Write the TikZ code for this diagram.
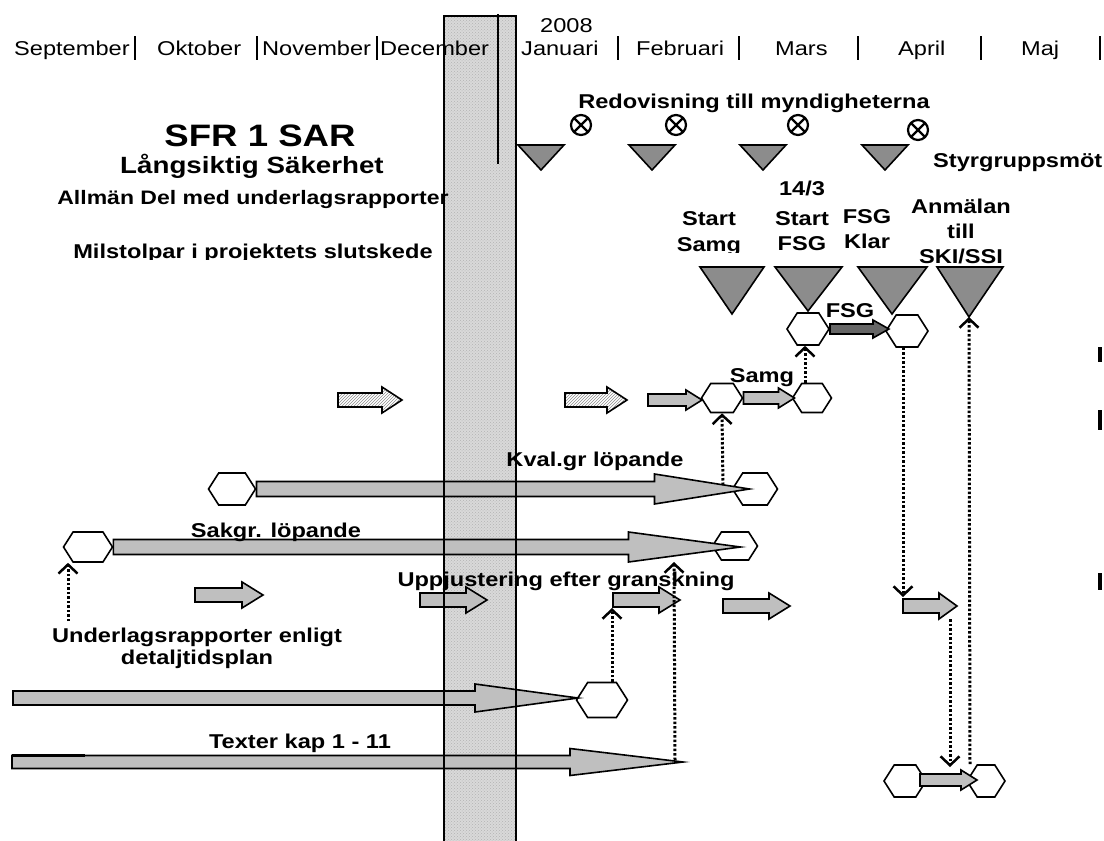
\documentclass[tikz,border=0pt]{standalone}
\usepackage{fontspec}
\setmainfont{Liberation Sans}[FakeStretch=1.18]
\usetikzlibrary{shapes.symbols,arrows.meta,patterns}

% block arrow: style, tail, length, head length, half shaft, half head
\newcommand{\barr}[6]{\draw[#1] #2 ++(0,-#5) -- ++(#3-#4,0) -- ++(0,#5-#6)
  -- ++(#4,#6) -- ++(-#4,#6) -- ++(0,#5-#6) -- ++(-#3+#4,0) -- cycle;}

\begin{document}
\begin{tikzpicture}[x=1pt,y=-1pt,
    hexa/.style={signal, signal to=east and west, signal pointer angle=115, draw, line width=1.6pt, fill=white, inner sep=0pt, minimum width=42pt, minimum height=32pt},
    blk/.style={draw, line width=1.6pt, fill=black!25},
    hatched/.style={draw, line width=1.6pt, pattern=north east lines, pattern color=black!45},
    tri/.style={draw, line width=1.6pt, fill=black!45},
    dotarr/.style={line width=3pt, dash pattern=on 2.5pt off 2pt, -{Straight Barb[length=9pt,width=19pt,line width=2.5pt]}},
    lbl/.style={font=\bfseries\fontsize{20}{25}\selectfont, inner sep=0pt, anchor=base},
    month/.style={font=\fontsize{20}{24}\selectfont, inner sep=0pt, anchor=base west},
    bar/.style={line width=2.5pt},
    xcirc/.style={circle, draw, line width=2.2pt, minimum size=20pt, inner sep=0pt, path picture={\draw[line width=2.2pt] (path picture bounding box.north west) -- (path picture bounding box.south east) (path picture bounding box.south west) -- (path picture bounding box.north east);}}
  ]
\useasboundingbox (0,0) rectangle (1104,841);

% the shaded band
\fill[black!15] (444,16) rectangle (516,841);
\fill[pattern=crosshatch dots, pattern color=black!30] (444,16) rectangle (516,841);

% months
\node[month] (sep) at (14,55) {September};
\node[month] (okt) at (157,55) {Oktober};
\node[month] (nov) at (262,55) {November};
\node[month] (dec) at (380,55) {December};
\node[month] (jan) at (521,55) {Januari};
\node[month] (feb) at (636,55) {Februari};
\node[month] (mar) at (775,55) {Mars};
\node[month] (apr) at (898,55) {April};
\node[month] (maj) at (1021,55) {Maj};
\node[month] (yr) at (540,32) {2008};
\foreach \bx in {135,257,377,618,739,858,981,1100}
  \draw[bar] (\bx,36) -- (\bx,60);

% title block
\node[lbl, font=\bfseries\fontsize{31}{36}\selectfont] (sfr) at (260,146) {SFR 1 SAR};
\node[lbl, font=\bfseries\fontsize{23.5}{28}\selectfont] (lang) at (252,173) {Långsiktig Säkerhet};
\node[lbl, font=\bfseries\fontsize{19.5}{24}\selectfont] (allm) at (253,204) {Allmän Del med underlagsrapporter};
\begin{scope}
  \clip (0,0) rectangle (1104,259);
  \node[lbl] (milst) at (253,258) {Milstolpar i projektets slutskede};
\end{scope}

% steering group meetings
\node[lbl] (redov) at (754,108) {Redovisning till myndigheterna};
\node[xcirc] (r1) at (581,125) {};
\node[xcirc] (r2) at (676,125) {};
\node[xcirc] (r3) at (798,125) {};
\node[xcirc] (r4) at (918,130) {};
\foreach \tx in {541,652,763,885}
  \draw[tri] (\tx-23,145) -- (\tx+23,145) -- (\tx,170) -- cycle;
\node[lbl, anchor=base west] (styr) at (933,167) {Styrgruppsmöt};

% milestones
\coordinate (mSamg) at (732,314);
\coordinate (mFsg) at (808,311);
\coordinate (mKlar) at (892,314);
\coordinate (mAnm) at (969,317);
\draw[tri] (mSamg) -- ++(-32,-47) -- ++(64,0) -- cycle;
\draw[tri] (mFsg) -- ++(-33,-44) -- ++(67,0) -- cycle;
\draw[tri] (mKlar) -- ++(-34,-47) -- ++(69,0) -- cycle;
\draw[tri] (mAnm) -- ++(-32,-50) -- ++(66,0) -- cycle;
\node[lbl] (st1) at (709,225) {Start};
\begin{scope}
  \clip (600,0) rectangle (760,252);
  \node[lbl] (st1b) at (709,251) {Samg};
\end{scope}
\node[lbl] (st2a) at (802,195) {14/3};
\node[lbl] (st2) at (802,225) {Start};
\node[lbl] (st2b) at (802,250) {FSG};
\node[lbl] (kl) at (867,223) {FSG};
\node[lbl] (klb) at (867,248) {Klar};
\node[lbl] (anm) at (961,213) {Anmälan};
\node[lbl] (anmb) at (961,238) {till};
\node[lbl] (anmc) at (961,263) {SKI/SSI};

% hexagons
\node[hexa] (f1) at (808,329) {};
\node[hexa] (f2) at (907,331) {};
\node[hexa, minimum width=41pt, minimum height=29pt] (s1) at (722,398) {};
\node[hexa, minimum width=39pt, minimum height=29pt] (s2) at (812,398) {};
\node[hexa, minimum width=47pt] (k1) at (232,489) {};
\node[hexa, minimum width=45pt] (k2) at (755,489) {};
\node[hexa, minimum width=49pt, minimum height=30pt] (a1) at (88,547) {};
\node[hexa, minimum width=45pt, minimum height=28pt] (a2) at (735,546) {};
\node[hexa, minimum width=51pt, minimum height=35pt] (u) at (602,700) {};
\node[hexa] (b1) at (905,781) {};
\node[hexa, minimum width=38pt] (b2) at (986,781) {};

% block arrows
\barr{blk, fill=black!60}{(f1.east)}{59}{16}{5}{9}
\barr{hatched}{(338,400)}{64}{20}{7}{13}
\barr{hatched}{(565,400)}{62}{20}{7}{13}
\barr{blk}{(648,400)}{54}{16}{6}{10}
\barr{blk}{(s1.east)}{51}{16}{6}{10}
\barr{blk}{(195,595)}{68}{21}{7}{13}
\barr{blk}{(420,600)}{67}{21}{7}{13}
\barr{blk}{(613,600)}{67}{21}{7}{13}
\barr{blk}{(723,606)}{67}{21}{7}{13}
\barr{blk}{(903,606)}{54}{18}{7}{13}
\barr{blk}{(920,780)}{57}{16}{6}{10}
\barr{blk}{(k1.east)}{493}{95}{7.5}{15}
\barr{blk}{(a1.east)}{627}{112}{7.5}{15}
\barr{blk}{(13,698)}{565}{103}{7}{14}
\barr{blk}{(12,762)}{671}{113}{6.5}{13.5}
\draw[line width=3pt] (12,755) -- (85,755);

% band edges over the arrows
\draw[line width=1.6pt] (444,841) -- (444,16) -- (516,16) -- (516,841);
\draw[line width=1.6pt] (498,14) -- (498,164);

% labels on the rows
\node[lbl] (samg) at (762,382) {Samg};
\node[lbl] (fsgl) at (850,317) {FSG};
\node[lbl] (kvl) at (595,466) {Kval.gr löpande};
\node[lbl] (sakl) at (276,537) {Sakgr. löpande};
\node[lbl] (uppj) at (566,586) {Uppjustering efter granskning};
\node[lbl] (texl) at (300,748) {Texter kap 1 - 11};
\node[lbl] (ul1) at (197,642) {Underlagsrapporter enligt};
\node[lbl] (ul2) at (197,664) {detaljtidsplan};

% dotted links
\coordinate (ulTop) at (68,621);
\coordinate (kvTip) at (723,485);
\coordinate (g6In) at (903,597);
\coordinate (g7In) at (950,767);
\coordinate (g6Out) at (950,619);
\coordinate (g4In) at (612,608);
\coordinate (texTip) at (675,760);
\coordinate (uppTop) at (674,562);
\draw[dotarr] (ulTop) -- ([xshift=-20pt]a1.south);
\draw[dotarr] (kvTip) -- (s1.south);
\draw[dotarr] ([xshift=-7pt]s2.north) -- ([xshift=-3pt]f1.south);
\draw[dotarr] ([xshift=-4pt]f2.south) -- (g6In);
\draw[dotarr] ([xshift=-16pt]b2.north) -- (mAnm);
\draw[dotarr] (g6Out) -- (g7In);
\draw[dotarr] ([xshift=10pt]u.north) -- (g4In);
\draw[dotarr] (texTip) -- (uppTop);

% marks at the right edge
\draw[line width=4pt] (1100,347) -- (1100,362);
\draw[line width=4pt] (1100,410) -- (1100,430);
\draw[line width=4pt] (1100,573) -- (1100,590);
\end{tikzpicture}
\end{document}
